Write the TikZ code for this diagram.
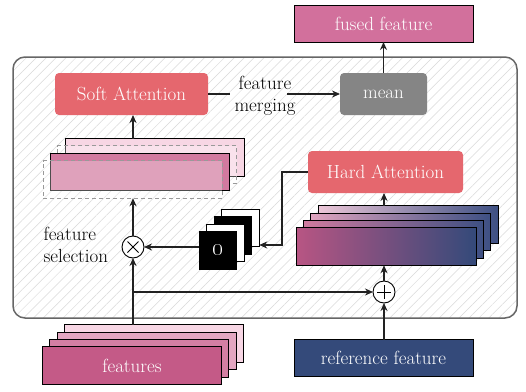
\documentclass[tikz,border=0pt]{standalone}
\usetikzlibrary{arrows.meta,patterns.meta,calc}
\definecolor{attred}{HTML}{E5676E}
\definecolor{fusedc}{HTML}{D2709C}
\definecolor{meanc}{HTML}{858585}
\definecolor{navy}{HTML}{344A7A}
\definecolor{navyb}{HTML}{3E5083}
\definecolor{pkA}{HTML}{C45A87}
\definecolor{pkB}{HTML}{D47FA3}
\definecolor{pkC}{HTML}{E3A6C1}
\definecolor{pkD}{HTML}{F7D6E4}
\definecolor{gA}{HTML}{B85583}
\definecolor{gB}{HTML}{D07B9F}
\definecolor{gC}{HTML}{E0A4BF}
\definecolor{gD}{HTML}{EDC7D8}
\definecolor{linec}{HTML}{222222}
\begin{document}
\begin{tikzpicture}[x=1pt,y=-1pt,
  font=\fontsize{19}{22}\selectfont,
  arr/.style={draw=linec,line width=1.3pt,-{Stealth[length=8pt,width=7pt]}},
  ln/.style={draw=linec,line width=1.3pt},
  layer/.style={draw=black,line width=0.9pt,inner sep=0pt,outer sep=0pt,minimum width=179pt,minimum height=37.5pt},
  sq/.style={draw=black,line width=0.9pt,inner sep=0pt,outer sep=0pt,minimum width=37.5pt,minimum height=37.5pt},
  dashbox/.style={draw=gray!80,dash pattern=on 4pt off 3pt,line width=0.8pt,fill=white,fill opacity=0.3,inner sep=0pt,outer sep=0pt,minimum width=179pt,minimum height=37.5pt},
  attbox/.style={fill=attred,rounded corners=4pt,text=white,minimum height=42pt,inner sep=0pt,outer sep=0pt},
  plainbox/.style={draw=black,line width=0.9pt,text=white,minimum width=179pt,minimum height=37pt,inner sep=0pt,outer sep=0pt},
  opc/.style={circle,draw=black,line width=0.9pt,fill=white,minimum size=22pt,inner sep=0pt,outer sep=0pt}
]
\useasboundingbox (0,0) rectangle (526,391);
% big container
\draw[draw=black!60,line width=1.5pt,rounded corners=12pt,preaction={fill=white},
  pattern={Lines[angle=45,distance=7pt,line width=0.5pt]},pattern color=gray!30]
  (13,57) rectangle (517,318);

% top boxes
\node[plainbox,fill=fusedc] (fused) at (383.5,23.5) {fused feature};
\node[attbox,fill=meanc,minimum width=87pt] (mean) at (383.5,94) {mean};
\node[attbox,minimum width=153pt] (sa) at (131.5,94) {Soft Attention};
\node[attbox,minimum width=155pt] (ha) at (385.5,172) {Hard Attention};

% soft stack
\node[layer,fill=pkD] (sb) at (154.5,157.5) {};
\node[dashbox] (sbd) at (147,164.5) {};
\node[layer,fill=pkB!85!pkA] (sf) at (139.5,172) {};
\node[dashbox] (sfd) at (132.5,179.5) {};

% features stack
\node[layer,fill=pkD] (f3) at (154,343.5) {};
\node[layer,fill=pkC] (f2) at (146.7,350.8) {};
\node[layer,fill=pkB] (f1) at (139.3,358.2) {};
\node[layer,fill=pkA,text=white] (f0) at (132,365.5) {features};

% reference feature
\node[plainbox,fill=navy] (ref) at (383.5,358) {reference feature};

% gradient stack
\node[layer,minimum width=180pt,left color=gD,right color=navyb] (g3) at (408,224.5) {};
\node[layer,minimum width=180pt,left color=gC,right color=navyb] (g2) at (400.7,231.8) {};
\node[layer,minimum width=180pt,left color=gB,right color=navyb] (g1) at (393.3,239.2) {};
\node[layer,minimum width=180pt,left color=gA,right color=navy] (g0) at (386,246.5) {};

% mask stack
\node[sq,fill=white] (m3) at (240.5,228) {};
\node[sq,fill=black] (m2) at (233,235.5) {};
\node[sq,fill=white] (m1) at (225.5,243) {};
\node[sq,fill=black,text=white,font=\fontsize{24}{26}\selectfont\bfseries] (m0) at (218,250.5) {\oldstylenums{0}};

% operators
\node[opc] (ot) at (133,247) {};
\draw[line width=0.8pt] (ot) ++(-5.5,-5.5) -- ++(11,11) (ot) ++(-5.5,5.5) -- ++(11,-11);
\node[opc] (op) at (384,292) {};
\draw[line width=0.8pt] (op) ++(-7,0) -- ++(14,0) (op) ++(0,-7) -- ++(0,14);

% labels
\node[align=center] (fm) at (265,96) {feature\\merging};
\node[align=left,anchor=west] (fs) at (40,245) {feature\\selection};

% connectors
\coordinate (fmL) at (230,94);
\coordinate (fmR) at (287,94);
\draw[ln] (sa.east) -- (fmL);
\draw[arr] (fmR) -- (mean.west);
\draw[arr] (mean.north) -- (fused.south);
\draw[arr] (sb.north -| ot) -- (sa.south -| ot);
\draw[arr] (ot.north) -- (sfd.south -| ot);
\draw[arr] (f3.north -| ot) -- (ot.south);
\coordinate (br) at (133,292);
\draw[arr] (br) -- (op.west);
\draw[arr] (ref.north -| op) -- (op.south);
\draw[arr] (op.north) -- (g0.south -| op);
\draw[arr] (g3.north -| op) -- (ha.south -| op);
\coordinate (hk) at (282,245);
\draw[arr] (ha.west) -| (hk) -- (m3.east |- hk);
\draw[arr] (m0.west |- ot) -- (ot.east);
\end{tikzpicture}
\end{document}
